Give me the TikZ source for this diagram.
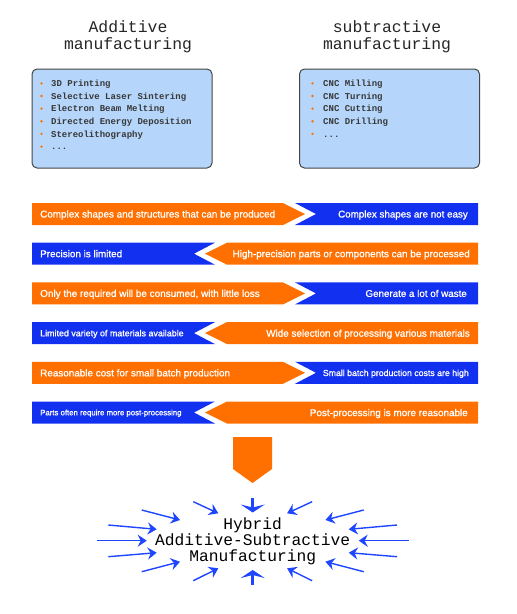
\documentclass[tikz,border=0pt]{standalone}
\usepackage{fontspec}
\setmainfont{Liberation Sans}
\newfontfamily\bandfont[FakeBold=1]{Liberation Sans}
\newfontfamily\monofont{Liberation Mono}
\usetikzlibrary{arrows.meta}
\definecolor{orng}{HTML}{FF7000}
\definecolor{blu}{HTML}{1230F0}
\definecolor{boxfill}{HTML}{B5D6FA}
\definecolor{boxline}{HTML}{454545}
\definecolor{arrblue}{HTML}{1E46FF}
\newcommand{\fs}[1]{\fontsize{#1}{#1}\selectfont}
\begin{document}
\begin{tikzpicture}[x=1pt,y=-1pt,
  title/.style={font=\monofont\fontsize{16.4}{17}\selectfont, align=center, text=black!85, inner sep=0pt},
  listbox/.style={draw=boxline, line width=1pt, fill=boxfill, rounded corners=5pt, minimum width=180pt, minimum height=99pt, inner sep=0pt},
  item/.style={anchor=base west, font=\monofont\bfseries\fs{9}, text=black!78, inner sep=0pt},
  bul/.style={fill=orng, circle, inner sep=0pt, minimum size=2.6pt},
  oband/.style={fill=orng},
  bband/.style={fill=blu},
  lt/.style={anchor=base west, text=white, inner sep=0pt},
  rt/.style={anchor=base east, text=white, inner sep=0pt},
  ray/.style={draw=arrblue, line width=1.4pt, -{Stealth[length=9pt,width=12pt,inset=3pt]}},
  bigray/.style={draw=arrblue, line width=3.5pt, -{Stealth[length=8pt,width=24pt,inset=3pt]}},
  hybrid/.style={font=\monofont\fontsize{16.25}{16}\selectfont, align=center, text=black, inner sep=0pt}
]
\useasboundingbox (0,0) rectangle (517,614);

% titles
\node[title] (tadd) at (128,37) {Additive\\manufacturing};
\node[title] (tsub) at (387,37) {subtractive\\manufacturing};

% boxes
\node[listbox] (abox) at (122,118.5) {};
\node[listbox] (sbox) at (389.5,118.5) {};

\foreach \txt [count=\i from 0] in {3D Printing,Selective Laser Sintering,Electron Beam Melting,Directed Energy Deposition,Stereolithography}{
  \node[bul] (ab\i) at (41.5,83.3+12.65*\i) {};
  \node[item] (ai\i) at (51,86.5+12.65*\i) {\txt};
}
\node[bul] (ab5) at (41.5,83.3+12.65*5) {};
\node[item] (ai5) at (51,86.5+12.65*5) {...};
\foreach \txt [count=\i from 0] in {CNC Milling,CNC Turning,CNC Cutting,CNC Drilling}{
  \node[bul] (sb\i) at (312.5,83.3+12.65*\i) {};
  \node[item] (si\i) at (323,86.5+12.65*\i) {\txt};
}
\node[bul] (sb4) at (312.5,83.3+12.65*4) {};
\node[item] (si4) at (323,86.5+12.65*4) {...};

% bands: right-pointing (orange left)
\foreach \tp in {203,282.4,361.8}{
  \fill[oband] (32,\tp) -- (283,\tp) -- (305,\tp+11) -- (283,\tp+22) -- (32,\tp+22) -- cycle;
  \fill[bband] (295,\tp) -- (478,\tp) -- (478,\tp+22) -- (295,\tp+22) -- (316,\tp+11) -- cycle;
}
% bands: left-pointing (blue left)
\foreach \tp in {242.7,322.1,401.5}{
  \fill[bband] (32,\tp) -- (215,\tp) -- (194,\tp+11) -- (215,\tp+22) -- (32,\tp+22) -- cycle;
  \fill[oband] (227,\tp) -- (478,\tp) -- (478,\tp+22) -- (227,\tp+22) -- (205,\tp+11) -- cycle;
}

% band texts
\node[lt, font=\bandfont\fs{9.9}] (l1) at (40,214+3.5) {Complex shapes and structures that can be produced};
\node[rt, font=\bandfont\fs{9.8}] (r1) at (468,214+3.5) {Complex shapes are not easy};
\node[lt, font=\bandfont\fs{9.9}] (l2) at (40,253.7+3.5) {Precision is limited};
\node[rt, font=\bandfont\fs{9.9}] (r2) at (470,253.7+3.5) {High-precision parts or components can be processed};
\node[lt, font=\bandfont\fs{9.95}] (l3) at (40,293.4+3.5) {Only the required will be consumed, with little loss};
\node[rt, font=\bandfont\fs{9.8}] (r3) at (467,293.4+3.5) {Generate a lot of waste};
\node[lt, font=\bandfont\fs{8.9}] (l4) at (40,333.1+3.2) {Limited variety of materials available};
\node[rt, font=\bandfont\fs{9.9}] (r4) at (470,333.1+3.6) {Wide selection of processing various materials};
\node[lt, font=\bandfont\fs{9.9}] (l5) at (40,372.8+3.6) {Reasonable cost for small batch production};
\node[rt, font=\bandfont\fs{8.75}] (r5) at (469,372.8+3.2) {Small batch production costs are high};
\node[lt, font=\bandfont\fs{7.8}] (l6) at (40,412.5+2.8) {Parts often require more post-processing};
\node[rt, font=\bandfont\fs{9.9}] (r6) at (468,412.5+3.6) {Post-processing is more reasonable};

% big orange down arrow
\fill[orng] (233,437) -- (272,437) -- (272,469) -- (252.5,483) -- (233,469) -- cycle;

% hybrid text
\node[hybrid] (hyb) at (252.7,541.5) {Hybrid\\Additive-Subtractive\\Manufacturing};

% rays
\foreach \xa/\ya/\xb/\yb [count=\k] in {193.3/501.7/218.3/513.3, 141.7/510/180/520, 108.3/525/156.7/529.3, 96.7/540.7/146.7/540.7, 108.3/556.7/156.7/552.7, 141.7/571.7/180/561.7, 193.3/580.7/218.3/568.3}{
  \coordinate (la\k) at (\xa,\ya);
  \coordinate (lb\k) at (\xb,\yb);
  \coordinate (ra\k) at (505.4-\xa,\ya);
  \coordinate (rb\k) at (505.4-\xb,\yb);
  \draw[ray] (la\k) -- (lb\k);
  \draw[ray] (ra\k) -- (rb\k);
}
\coordinate (ta) at (252.7,498.3);
\coordinate (tb) at (252.7,512.5);
\coordinate (ba) at (252.7,584.5);
\coordinate (bb) at (252.7,570);
\draw[bigray] (ta) -- (tb);
\draw[bigray] (ba) -- (bb);
\end{tikzpicture}
\end{document}
